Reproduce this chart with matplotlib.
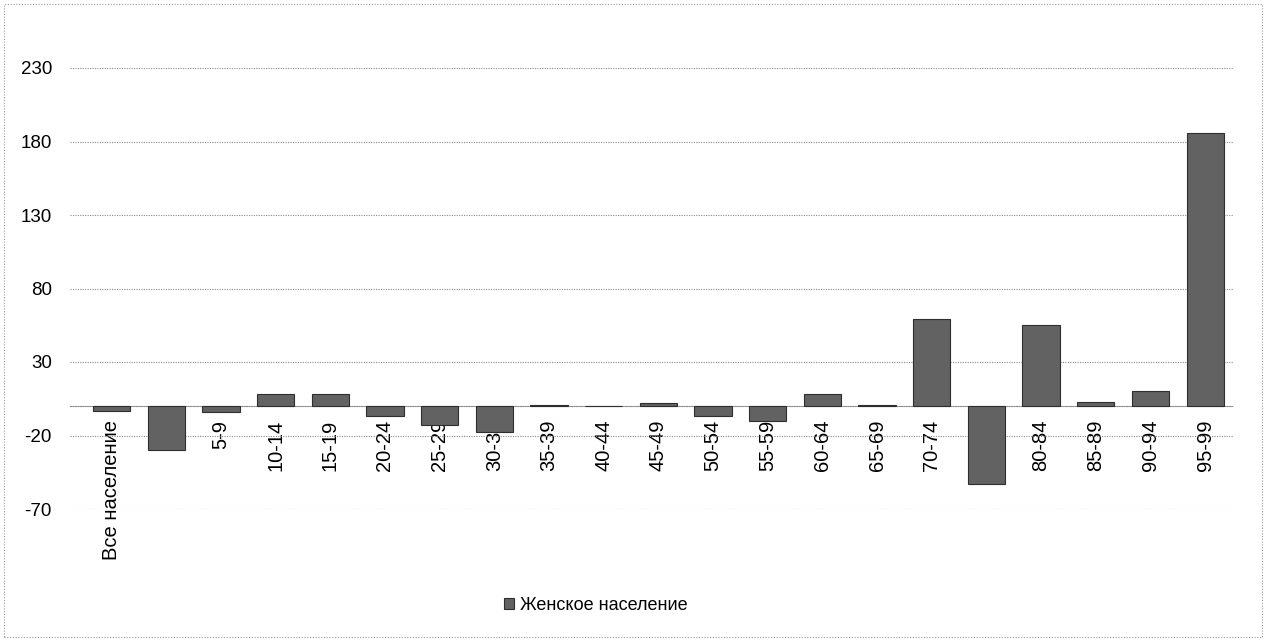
import matplotlib
matplotlib.use('Agg')

import matplotlib.pyplot as plt
from matplotlib.patches import Rectangle

plt.rcParams["font.family"] = ["Liberation Sans", "DejaVu Sans"]
plt.rcParams["axes.unicode_minus"] = False

categories = ["Все население", "0-4", "5-9", "10-14", "15-19", "20-24", "25-29",
              "30-34", "35-39", "40-44", "45-49", "50-54", "55-59", "60-64",
              "65-69", "70-74", "75-79", "80-84", "85-89", "90-94", "95-99"]
values = [-3, -30, -4, 8, 8, -7, -13, -17.5, 1, 0.3, 2, -7, -10, 8.5,
          1, 59, -53, 55, 2.5, 10, 186]
yticks = [-70, -20, 30, 80, 130, 180, 230]
series_name = "Женское население"

W, H = 1267, 641
fig = plt.figure(figsize=(W / 100, H / 100), dpi=100)
fig.patch.set_facecolor("white")

# plot area in pixels: x 70..1233, y 68 (230) .. 509 (-70)
ax = fig.add_axes([70 / W, (H - 509) / H, (1233 - 70) / W, (509 - 68) / H])
ax.set_axisbelow(True)

x = list(range(len(categories)))
ax.bar(x, values, width=0.68, color="#626262", edgecolor="#2e2e2e",
       linewidth=0.8, label=series_name, zorder=3)

ax.set_xlim(-0.76, len(categories) - 0.49)
ax.set_ylim(-70, 230)
ax.set_yticks(yticks)
ax.yaxis.grid(True, color="#8a8a8a", linestyle=(0, (1, 1.2)), linewidth=0.8)

for s in ["top", "right", "left"]:
    ax.spines[s].set_visible(False)
ax.spines["bottom"].set_position(("data", 0))
ax.spines["bottom"].set_color("#8a8a8a")
ax.spines["bottom"].set_linestyle((0, (1, 1.2)))
ax.spines["bottom"].set_linewidth(0.8)

ax.set_xticks(x)
ax.set_xticklabels(categories, rotation=90, va="top", ha="center", fontsize=14.5)
ax.tick_params(axis="x", length=0, pad=10, colors="black")
ax.tick_params(axis="y", length=0, pad=13, labelsize=13.5)

fig.legend(loc="center", bbox_to_anchor=(0.47, 0.056), frameon=False,
           fontsize=13, handlelength=0.6, handleheight=0.6, handletextpad=0.3)

# dotted chart border
fig.add_artist(Rectangle((4 / W, 4 / H), (W - 9) / W, (H - 8) / H,
                         transform=fig.transFigure, fill=False,
                         edgecolor="#9a9a9a", linestyle=(0, (1, 1.5)), linewidth=0.8))

fig.savefig("out.png", dpi=100, facecolor="white")
plt.close(fig)
